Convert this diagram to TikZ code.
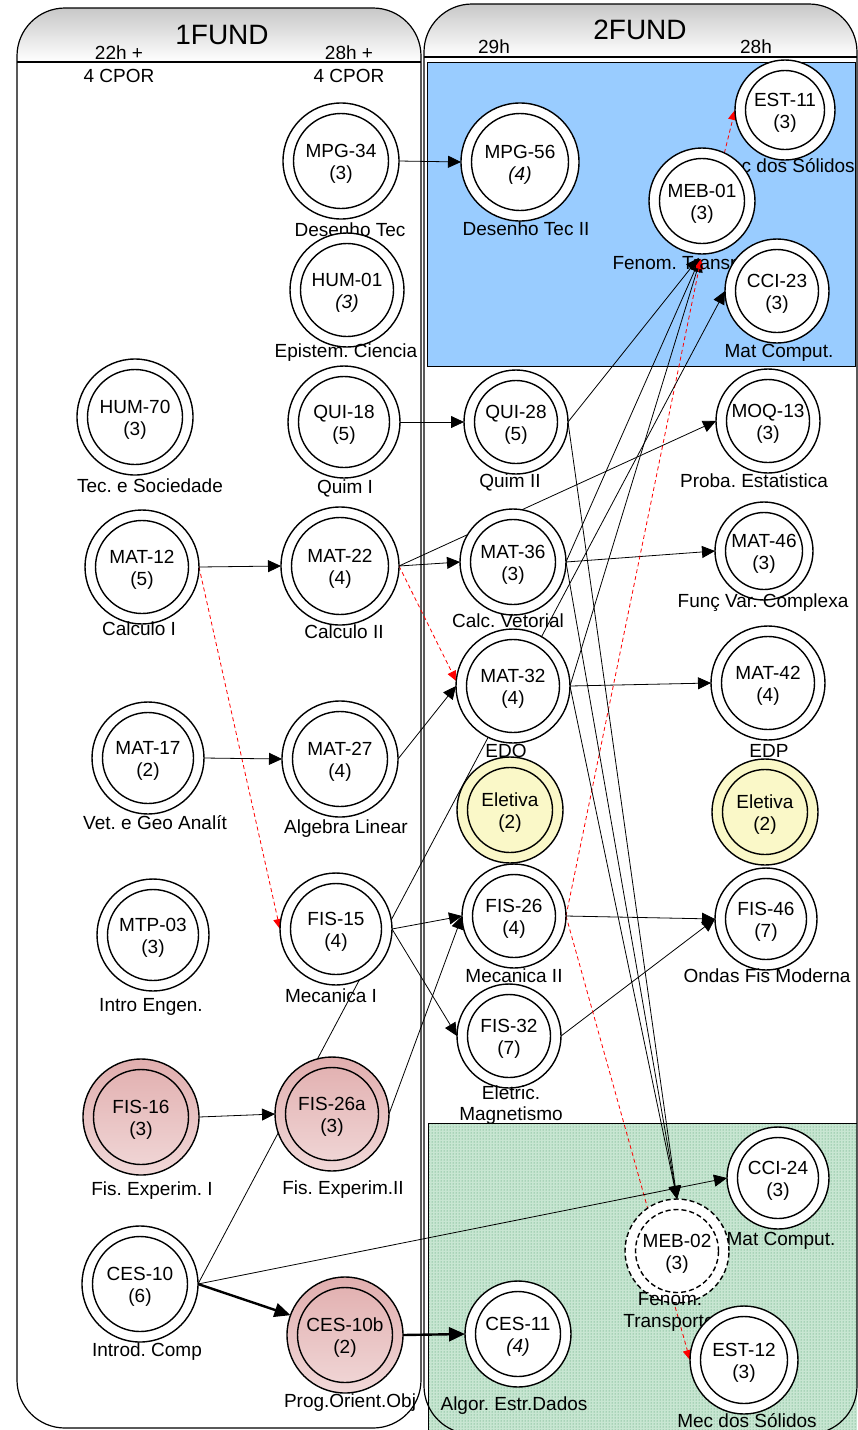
\documentclass[tikz,border=0pt]{standalone}
\usepackage{fontspec}
\setmainfont{Liberation Sans}
\usetikzlibrary{arrows.meta,patterns}
\pgfdeclarelayer{lanes}
\pgfdeclarelayer{edges}
\pgfsetlayers{lanes,edges,main}
\definecolor{bluebg}{RGB}{153,204,255}
\definecolor{greenbg}{RGB}{200,230,210}
\definecolor{greendot}{RGB}{60,145,95}
\definecolor{pinkA}{RGB}{225,174,174}
\definecolor{pinkB}{RGB}{241,216,216}
\definecolor{yellowbg}{RGB}{250,248,200}
\definecolor{hdrgray}{RGB}{200,200,200}
\frenchspacing
\newcommand\myfs{\fontsize{19}{22}\selectfont}
\newcommand\bigfs{\fontsize{28}{30}\selectfont}
\newcommand\crs[8]{%
  \node[cout,#5,minimum size={2*#4pt}] (#1) at (#2,#3) {};
  \draw[cin,#6] (#2,#3) circle[radius={#4-10.5}];
  \node[txt] at (#2,#3-4) {#7};
  \node[txt] at (#2,#3+18.5) {#8};}
\newcommand\lbl[3]{\node[txt] at (#1,#2+7) {#3};}
\begin{document}
\begin{tikzpicture}[x=1pt,y=-1pt,
  cout/.style={circle,draw,line width=1.4pt,fill=white,inner sep=0pt,outer sep=0pt},
  cin/.style={line width=1.4pt},
  txt/.style={anchor=base,inner sep=0pt,font=\myfs},
  pinkfill/.style={top color=pinkA,bottom color=pinkB},
  yelfill/.style={fill=yellowbg},
  dashc/.style={dash pattern=on 5pt off 3pt},
  arr/.style={draw=black,line width=0.8pt,-{Triangle[length=13pt,width=12pt]}},
  tarr/.style={draw=black,line width=2.4pt,-{Triangle[length=16pt,width=14pt]}},
  rarr/.style={draw=red,line width=0.8pt,dash pattern=on 4pt off 3pt,-{Triangle[length=10pt,width=9pt]}},
  lane/.style={draw=black,line width=1.2pt}]
\useasboundingbox (0,0) rectangle (858,1430);

% ---------- lanes ----------
\begin{pgfonlayer}{lanes}
  \fill[white,rounded corners=48] (17,8) rectangle (421,1428);
  \begin{scope}
    \clip[rounded corners=48] (17,8) rectangle (421,1428);
    \shade[top color=hdrgray,bottom color=white] (17,8) rectangle (421,62);
  \end{scope}
  \fill[white,rounded corners=48] (424,4) rectangle (857,1434);
  \begin{scope}
    \clip[rounded corners=48] (424,4) rectangle (857,1434);
    \shade[top color=hdrgray,bottom color=white] (424,4) rectangle (857,57);
  \end{scope}
  \draw[fill=bluebg,line width=1pt] (427,62) rectangle (855,366);
  \fill[greenbg] (428,1123) rectangle (857,1434);
  \fill[pattern=dots,pattern color=greendot] (428,1123) rectangle (857,1434);
  \draw[line width=1pt] (428,1434) -- (428,1123) -- (857,1123);
  \draw[lane,rounded corners=48] (17,8) rectangle (421,1428);
  \draw[lane] (17,62) -- (421,62);
  \draw[lane,rounded corners=48] (424,4) rectangle (857,1434);
  \draw[lane] (424,57) -- (857,57);
\end{pgfonlayer}

% ---------- headers ----------
\node[anchor=base,inner sep=0pt,font=\bigfs] (h1) at (222,44.5) {1FUND};
\node[txt] (h1a) at (119,59) {22h +};
\node[txt] (h1b) at (119,82) {4 CPOR};
\node[txt] (h1c) at (349,59) {28h +};
\node[txt] (h1d) at (349,82) {4 CPOR};
\node[anchor=base,inner sep=0pt,font=\bigfs] (h2) at (640,39) {2FUND};
\node[txt] (h2a) at (494,53) {29h};
\node[txt] (h2b) at (756,53) {28h};

% ---------- 1FUND courses ----------
\crs{mpg34}{341}{161}{58}{}{}{MPG-34}{(3)} \lbl{350}{229}{Desenho Tec}
\crs{hum01}{347}{290}{57}{}{}{HUM-01}{\textit{(3)}} \lbl{346}{350}{Epistem. Ciencia}
\crs{hum70}{135}{417}{58}{}{}{HUM-70}{(3)} \lbl{150}{485}{Tec. e Sociedade}
\crs{qui18}{344}{422}{56}{}{}{QUI-18}{(5)} \lbl{345}{486}{Quim I}
\crs{mat12}{142}{567}{57}{}{}{MAT-12}{(5)} \lbl{139}{628}{Calculo I}
\crs{mat22}{340}{566}{59}{}{}{MAT-22}{(4)} \lbl{344}{631}{Calculo II}
\crs{mat17}{148}{758}{56}{}{}{MAT-17}{(2)} \lbl{155}{822}{Vet. e Geo Analít}
\crs{mat27}{340}{759}{58}{}{}{MAT-27}{(4)} \lbl{346}{826}{Algebra Linear}
\crs{mtp03}{153}{935}{56}{}{}{MTP-03}{(3)} \lbl{151}{1004}{Intro Engen.}
\crs{fis15}{336}{929}{56}{}{}{FIS-15}{(4)} \lbl{331}{995}{Mecanica I}
\crs{fis16}{141}{1117}{58}{pinkfill}{}{FIS-16}{(3)} \lbl{152}{1188}{Fis. Experim. I}
\crs{fis26a}{332}{1114}{57}{pinkfill}{}{FIS-26a}{(3)} \lbl{343}{1187}{Fis. Experim.II}
\crs{ces10}{140}{1284}{58}{}{}{CES-10}{(6)} \lbl{147}{1349}{Introd. Comp}
\crs{ces10b}{345}{1335}{58}{pinkfill}{}{CES-10b}{(2)} \lbl{350}{1400}{Prog.Orient.Obj}

% ---------- 2FUND courses ----------
\crs{mpg56}{520}{162}{59}{}{}{MPG-56}{\textit{(4)}} \lbl{526}{228}{Desenho Tec II}
\crs{est11}{785}{110}{50}{}{}{EST-11}{(3)} \lbl{785}{165}{Mec dos Sólidos}
\crs{meb01}{702}{201}{53}{}{}{MEB-01}{(3)} \lbl{693}{262}{Fenom. Transporte}
\crs{cci23}{777}{291}{52}{}{}{CCI-23}{(3)} \lbl{779}{350}{Mat Comput.}
\crs{qui28}{516}{422}{52}{}{}{QUI-28}{(5)} \lbl{510}{480}{Quim II}
\crs{moq13}{768}{421}{52}{}{}{MOQ-13}{(3)} \lbl{754}{480}{Proba. Estatistica}
\crs{mat36}{513}{562}{53}{}{}{MAT-36}{(3)} \lbl{508}{620}{Calc. Vetorial}
\crs{mat46}{764}{551}{49}{}{}{MAT-46}{(3)} \lbl{763}{600}{Funç Var. Complexa}
\crs{mat32}{513}{686}{57}{}{}{MAT-32}{(4)} \lbl{506}{750}{EDO}
\crs{mat42}{768}{683}{57}{}{}{MAT-42}{(4)} \lbl{769}{750}{EDP}
\crs{elet1}{510}{810}{53}{yelfill}{}{Eletiva}{(2)}
\crs{elet2}{765}{812}{53}{yelfill}{}{Eletiva}{(2)}
\crs{fis26}{514}{916}{52}{}{}{FIS-26}{(4)} \lbl{514}{975}{Mecanica II}
\crs{fis46}{766}{919}{51}{}{}{FIS-46}{(7)} \lbl{767}{975}{Ondas Fis Moderna}
\crs{fis32}{509}{1036}{52}{}{}{FIS-32}{(7)} \lbl{511}{1092}{Eletric.} \lbl{511}{1113}{Magnetismo}
\crs{cci24}{778}{1178}{51}{}{}{CCI-24}{(3)} \lbl{781}{1238}{Mat Comput.}
\crs{meb02}{677}{1251}{52}{dashc}{dashc}{MEB-02}{(3)} \lbl{670}{1298}{Fenom.} \lbl{669}{1320}{Transporte}
\crs{ces11}{518}{1334}{53}{}{}{CES-11}{\textit{(4)}} \lbl{514}{1403}{Algor. Estr.Dados}
\crs{est12}{744}{1360}{54}{}{}{EST-12}{(3)} \lbl{747}{1420}{Mec dos Sólidos}

% ---------- connectors ----------
\begin{pgfonlayer}{edges}
  \draw[arr] (mpg34.east) -- (mpg56.west);
  \draw[arr] (qui18.east) -- (qui28.west);
  \draw[arr] (mat12.east) -- (mat22.west);
  \draw[rarr] (mat12.east) -- (fis15.west);
  \draw[arr] (mat22.east) -- (mat36.west);
  \draw[arr] (mat22.east) -- (moq13.west);
  \draw[rarr] (mat22.east) -- (mat32.175);
  \draw[arr] (mat17.east) -- (mat27.west);
  \draw[arr] (mat27.east) -- (mat32.west);
  \draw[arr] (mat36.east) -- (mat46.west);
  \draw[arr] (mat32.east) -- (mat42.west);
  \draw[arr] (fis15.east) -- (fis26.west);
  \draw[arr] (fis15.east) -- (fis32.west);
  \draw[arr] (fis16.east) -- (fis26a.west);
  \draw[arr] (fis26a.east) -- (fis26.west);
  \draw[arr] (fis26.east) -- (fis46.west);
  \draw[arr] (fis32.east) -- (fis46.west);
  \draw[arr,shorten >=5pt] (qui28.east) -- (meb01.south);
  \draw[arr,shorten >=5pt] (mat36.east) -- (meb01.south);
  \draw[arr,shorten >=5pt] (mat32.east) -- (meb01.south);
  \draw[rarr,shorten >=5pt] (fis26.east) -- (meb01.south);
  \draw[rarr] (meb01.65) -- (est11.west);
  \draw[arr] (qui28.east) -- (meb02.north);
  \draw[arr] (mat36.east) -- (meb02.north);
  \draw[arr] (mat32.east) -- (meb02.north);
  \draw[rarr] (fis26.east) -- (est12.west);
  \draw[arr] (ces10.east) -- (cci23.west);
  \draw[arr] (ces10.east) -- (cci24.west);
  \draw[tarr] (ces10.east) -- (ces10b.160);
  \draw[tarr] (ces10b.east) -- (ces11.west);
\end{pgfonlayer}
\end{tikzpicture}
\end{document}
